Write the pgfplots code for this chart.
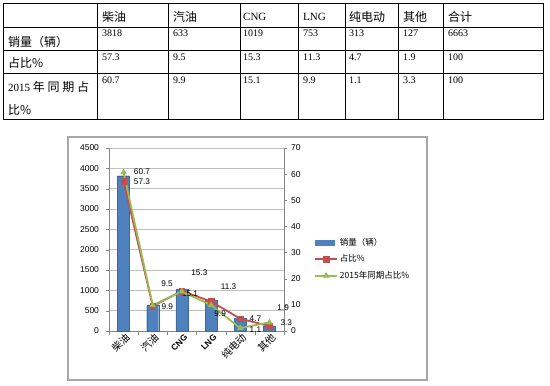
\documentclass[border=0pt]{standalone}
\usepackage{pgfplots}
\usepackage{pgfplotstable}
\pgfplotsset{compat=1.18}
\usepackage{fontspec}
\setmainfont{Liberation Serif}
\newfontfamily\cjk{Noto Sans CJK SC}
\newfontfamily\arial{Liberation Sans}
\definecolor{barblue}{HTML}{4F81BD}
\definecolor{lred}{HTML}{C0504D}
\definecolor{lgreen}{HTML}{9BBB59}
\definecolor{axgray}{HTML}{868686}
\definecolor{gridc}{HTML}{BFBFBF}
\pgfplotstableread{
x sales share prev
0 3818 57.3 60.7
1 633 9.5 9.9
2 1019 15.3 15.1
3 753 11.3 9.9
4 313 4.7 1.1
5 127 1.9 3.3
}\data
\tikzset{lbl/.style={font=\arial\fontsize{8.2}{9}\selectfont, inner sep=0pt}}
\begin{document}
\begin{tikzpicture}
\path[use as bounding box] (0,0) rectangle (550pt,-386pt);
% ---------- table ----------
\foreach \yy in {27,50,73} \draw[line width=0.7pt] (3pt,-\yy pt) -- (543pt,-\yy pt);
\foreach \xx in {97,168,240,298,345,398,443} \draw[line width=0.7pt] (\xx pt,-3pt) -- (\xx pt,-119pt);
\draw[line width=0.9pt] (3pt,-3pt) rectangle (543pt,-119pt);
\tikzset{cj/.style={anchor=west,inner sep=0pt,font=\cjk\fontsize{12}{14}\selectfont},
         nm/.style={anchor=west,inner sep=0pt,font=\fontsize{10}{12}\selectfont}}
% header
\node[cj] at (102pt,-17pt) {柴油};
\node[cj] at (173pt,-17pt) {汽油};
\node[nm,font=\fontsize{11}{12}\selectfont] at (243pt,-17pt) {CNG};
\node[nm,font=\fontsize{11}{12}\selectfont] at (303pt,-17pt) {LNG};
\node[cj] at (349pt,-17pt) {纯电动};
\node[cj] at (403pt,-17pt) {其他};
\node[cj] at (448pt,-17pt) {合计};
% row labels
\node[cj] at (8pt,-42pt) {销量（辆）};
\node[cj] at (8pt,-63pt) {占比\%};
\node[cj] at (8pt,-87pt) {\makebox[81pt][s]{{\fontspec{Liberation Serif}\fontsize{11}{12}\selectfont 2015}\hfill 年\hfill 同\hfill 期\hfill 占}};
\node[cj] at (8pt,-110pt) {比\%};
% numbers
\foreach \xx/\a/\b/\c in {102/3818/57.3/60.7,173/633/9.5/9.9,243/1019/15.3/15.1,303/753/11.3/9.9,349/313/4.7/1.1,403/127/1.9/3.3,448/6663/100/100}{
  \node[nm] at (\xx pt,-33pt) {\a};
  \node[nm] at (\xx pt,-57pt) {\b};
  \node[nm] at (\xx pt,-80pt) {\c};
}
% ---------- chart frame ----------
\draw[gray!70,line width=1.3pt] (68pt,-137pt) rectangle (427pt,-380pt);
% ---------- bars ----------
\begin{axis}[
  at={(109pt,-331pt)}, anchor=south west,
  scale only axis, width=175pt, height=183pt,
  xmin=-0.5, xmax=5.5, ymin=0, ymax=4500,
  ytick={0,500,...,4500},
  axis y line*=left, axis x line*=bottom,
  axis line style={axgray},
  ymajorgrids, major grid style={gridc, line width=0.6pt},
  tick align=outside, major tick length=3.5pt, minor tick length=3.5pt,
  y tick style={axgray},
  xtick={0,...,5},
  xticklabels={{\cjk 柴油},{\cjk 汽油},{\arial\bfseries\fontsize{8.5}{9}\selectfont CNG},{\arial\bfseries\fontsize{8.5}{9}\selectfont LNG},{\cjk 纯电动},{\cjk 其他}},
  minor xtick={-0.5,0.5,...,5.5},
  major x tick style={draw=none},
  minor x tick style={axgray},
  xticklabel style={rotate=45, anchor=east, font=\fontsize{10}{10}\selectfont, xshift=3pt, yshift=-4pt, inner sep=1pt},
  yticklabel style={font=\arial\fontsize{8.5}{10}\selectfont, xshift=-3pt},
  /pgf/number format/assume math mode=true,
  /pgf/number format/set thousands separator={},
]
\addplot[ybar, bar width=12pt, fill=barblue, draw=barblue!80!black, line width=0.3pt] table[x=x,y=sales]{\data};
\end{axis}
% ---------- lines ----------
\begin{axis}[
  at={(109pt,-331pt)}, anchor=south west,
  scale only axis, width=175pt, height=183pt,
  xmin=-0.5, xmax=5.5, ymin=0, ymax=70,
  ytick={0,10,...,70},
  axis y line*=right, axis x line=none,
  axis line style={axgray},
  tick align=outside, major tick length=3.5pt,
  y tick style={axgray},
  yticklabel style={font=\arial\fontsize{8.5}{10}\selectfont},
  /pgf/number format/assume math mode=true,
  clip=false,
  legend style={draw=none, fill=none, at={(1,0.393)}, anchor=west, xshift=29pt,
     font=\cjk\fontsize{8.5}{10}\selectfont, row sep=4pt, inner sep=1pt},
  legend cell align=left,
  legend image code/.code={\draw[mark repeat=2,mark phase=2,#1] plot coordinates {(0pt,0pt) (11pt,0pt) (22pt,0pt)};},
]
\addlegendimage{legend image code/.code={\fill[barblue] (0pt,-2.5pt) rectangle (19pt,2.5pt);}}
\addlegendentry{销量（辆）}
\addplot[lred, line width=1.8pt, mark=square*, mark size=2.8pt, mark options={fill=lred, line width=0.5pt}] table[x=x,y=share]{\data};
\addlegendentry{占比\%}
\addplot[lgreen, line width=1.8pt, mark=triangle*, mark size=3.3pt, mark options={fill=lgreen, line width=0.5pt}] table[x=x,y=prev]{\data};
\addlegendentry{2015年同期占比\%}
\node[lbl] at (axis cs:0.63,60.8) {60.7};
\node[lbl] at (axis cs:0.63,57.0) {57.3};
\node[lbl] at (axis cs:1.49,18.0) {9.5};
\node[lbl] at (axis cs:1.50,9.2) {9.9};
\node[lbl] at (axis cs:2.60,22.2) {15.3};
\node[lbl] at (axis cs:2.28,14.2) {15.1};
\node[lbl] at (axis cs:3.60,16.8) {11.3};
\node[lbl] at (axis cs:3.31,6.5) {9.9};
\node[lbl] at (axis cs:4.52,4.6) {4.7};
\node[lbl] at (axis cs:4.52,0.4) {1.1};
\node[lbl] at (axis cs:5.47,8.8) {1.9};
\node[lbl] at (axis cs:5.58,3.1) {3.3};
\end{axis}
\end{tikzpicture}
\end{document}
